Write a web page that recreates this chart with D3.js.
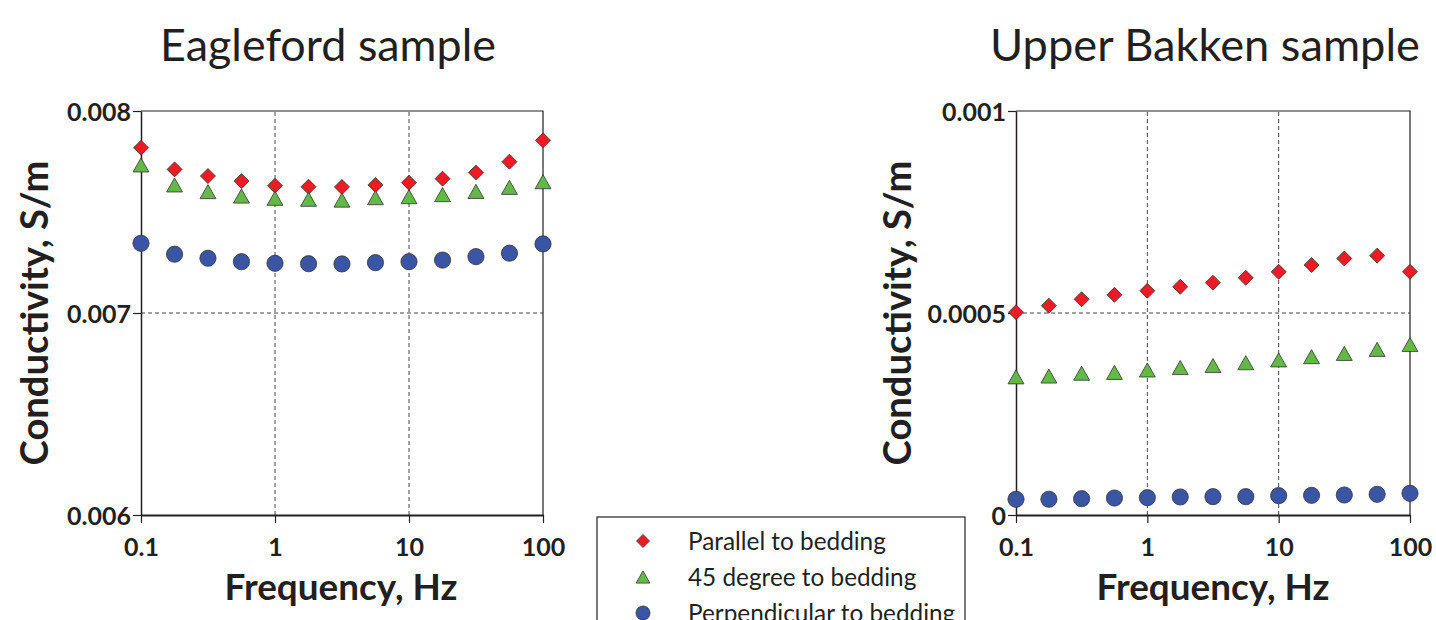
<!DOCTYPE html>
<html><head><meta charset="utf-8">
<script src="https://cdn.jsdelivr.net/npm/d3@7"></script>
<style>html,body{margin:0;padding:0;background:#fff;overflow:hidden}</style>
</head><body>
<svg id="c" width="1436" height="620"></svg>
<script>
// ---- data ----
const frequency = [0.1, 0.178, 0.316, 0.562, 1, 1.78, 3.16, 5.62, 10, 17.8, 31.6, 56.2, 100];
const seriesNames = ["Parallel to bedding", "45 degree to bedding", "Perpendicular to bedding"];
const eaglefordParallel = [0.007818, 0.007711, 0.007678, 0.007653, 0.007630, 0.007625, 0.007624, 0.007634, 0.007645, 0.007665, 0.007695, 0.007749, 0.007855];
const eagleford45 = [0.007733, 0.007634, 0.007601, 0.007579, 0.007568, 0.007563, 0.007559, 0.007571, 0.007576, 0.007586, 0.007602, 0.007622, 0.007650];
const eaglefordPerp = [0.007345, 0.007291, 0.007271, 0.007254, 0.007246, 0.007244, 0.007243, 0.007249, 0.007254, 0.007262, 0.007279, 0.007296, 0.007342];
const bakkenParallel = [0.000502, 0.000518, 0.000534, 0.000545, 0.000555, 0.000565, 0.000575, 0.000587, 0.000602, 0.000619, 0.000635, 0.000642, 0.000602];
const bakken45 = [0.000342, 0.000344, 0.000351, 0.000353, 0.000359, 0.000365, 0.000370, 0.000377, 0.000384, 0.000392, 0.000400, 0.000410, 0.000422];
const bakkenPerp = [0.0000389, 0.000039, 0.0000404, 0.000042, 0.0000429, 0.0000446, 0.0000454, 0.0000454, 0.0000479, 0.0000487, 0.0000495, 0.0000512, 0.0000536];
const xTicks = [0.1, 1, 10, 100];
const xTickLabels = ["0.1", "1", "10", "100"];
const eaglefordYTicks = [0.006, 0.007, 0.008];
const eaglefordYTickLabels = ["0.006", "0.007", "0.008"];
const eaglefordYMinor = [0.0065, 0.0075];
const bakkenYTicks = [0, 0.0005, 0.001];
const bakkenYTickLabels = ["0", "0.0005", "0.001"];
const bakkenYMinor = [0.00025, 0.00075];
const titles = ["Eagleford sample", "Upper Bakken sample"];
const xLabel = "Frequency, Hz";
const yLabel = "Conductivity, S/m";

// ---- style ----
const colors = ["#ed1c24", "#62b946", "#3a55a4"];
const ink = "#231f20";
const FONT = "Lato, 'Open Sans', sans-serif";
const svg = d3.select("#c");

function markerPath(kind, s) {
  if (kind === 0) { const h = s * 0.5; return `M0,${-h}L${h},0L0,${h}L${-h},0Z`; }
  if (kind === 1) { const w = s * 0.53, h = s * 0.47; return `M0,${-h}L${w},${h}L${-w},${h}Z`; }
  return d3.symbol(d3.symbolCircle, Math.PI * (s * 0.54) * (s * 0.54))();
}
function fit(sel, w) {
  const cur = sel.node().getComputedTextLength();
  const fs = parseFloat(sel.attr("font-size")) * w / cur;
  sel.attr("font-size", fs);
  return fs;
}

const panels = [
  { title: titles[0], xr: [141, 543], yd: [0.006, 0.008], yt: eaglefordYTicks, ytl: eaglefordYTickLabels, ym: eaglefordYMinor,
    series: [eaglefordParallel, eagleford45, eaglefordPerp], titleX: 328, titleW: 336, xlabX: 341, ylabX: 48 },
  { title: titles[1], xr: [1016, 1410], yd: [0, 0.001], yt: bakkenYTicks, ytl: bakkenYTickLabels, ym: bakkenYMinor,
    series: [bakkenParallel, bakken45, bakkenPerp], titleX: 1205, titleW: 430, xlabX: 1213, ylabX: 911 }
];
const yr = [515, 111];

panels.forEach(p => {
  const x = d3.scaleLog().domain([0.1, 100]).range(p.xr);
  const y = d3.scaleLinear().domain(p.yd).range(yr);
  const g = svg.append("g");

  // gridlines (dashed)
  g.selectAll(".vg").data([1, 10]).join("line")
    .attr("x1", d => x(d)).attr("x2", d => x(d)).attr("y1", yr[0]).attr("y2", yr[1])
    .attr("stroke", "#444").attr("stroke-width", 1).attr("stroke-dasharray", "4,3");
  g.selectAll(".hg").data([p.yt[1]]).join("line")
    .attr("x1", p.xr[0]).attr("x2", p.xr[1]).attr("y1", d => y(d)).attr("y2", d => y(d))
    .attr("stroke", "#444").attr("stroke-width", 1).attr("stroke-dasharray", "4,3");

  // frame top/right
  g.append("path").attr("d", `M${p.xr[0]},${yr[1]}H${p.xr[1]}V${yr[0]}`)
    .attr("fill", "none").attr("stroke", ink).attr("stroke-width", 1.2);

  // x axis
  const minors = [];
  [0.1, 1, 10].forEach(dec => { for (let k = 2; k <= 9; k++) minors.push(dec * k); });
  const xa = g.append("g").attr("transform", `translate(0,${yr[0]})`);
  xa.call(d3.axisBottom(x).tickValues(minors).tickSize(4).tickFormat(""));
  xa.call(d3.axisBottom(x).tickValues(xTicks).tickSize(8).tickSizeOuter(0)
    .tickFormat((d, i) => xTickLabels[i]));
  xa.selectAll("path.domain").attr("stroke", ink).attr("stroke-width", 2);
  xa.selectAll("line").attr("stroke", ink).attr("stroke-width", 1.2);
  xa.selectAll("text").attr("font-family", FONT).attr("font-weight", "bold")
    .attr("font-size", 25).attr("fill", ink).attr("dy", null).attr("y", 41);

  // y axis
  const ya = g.append("g").attr("transform", `translate(${p.xr[0]},0)`);
  ya.call(d3.axisLeft(y).tickValues(p.ym).tickSize(4).tickFormat(""));
  ya.call(d3.axisLeft(y).tickValues(p.yt).tickSize(8).tickSizeOuter(0)
    .tickFormat((d, i) => p.ytl[i]));
  ya.selectAll("path.domain").attr("stroke", ink).attr("stroke-width", 1.5);
  ya.selectAll("line").attr("stroke", ink).attr("stroke-width", 1.2);
  ya.selectAll("text").attr("font-family", FONT).attr("font-weight", "bold")
    .attr("font-size", 25).attr("fill", ink).attr("x", -10).attr("dy", "0.36em");

  // markers: red, green, blue
  p.series.forEach((vals, k) => {
    g.selectAll(".m" + k).data(vals).join("path")
      .attr("d", markerPath(k, 15))
      .attr("transform", (d, i) => `translate(${x(frequency[i])},${y(d)})`)
      .attr("fill", colors[k]).attr("stroke", "#333").attr("stroke-width", 0.8);
  });

  // titles & axis labels
  const t = svg.append("text").text(p.title).attr("x", p.titleX).attr("y", 61)
    .attr("text-anchor", "middle").attr("font-family", FONT).attr("font-size", 40).attr("fill", ink);
  fit(t, p.titleW);
  const xl = svg.append("text").text(xLabel).attr("x", p.xlabX).attr("y", 600)
    .attr("text-anchor", "middle").attr("font-family", FONT).attr("font-weight", "bold").attr("font-size", 32).attr("fill", ink);
  fit(xl, 233);
  const yl = svg.append("text").text(yLabel)
    .attr("transform", `translate(${p.ylabX},313) rotate(-90)`)
    .attr("text-anchor", "middle").attr("font-family", FONT).attr("font-weight", "bold").attr("font-size", 32).attr("fill", ink);
  fit(yl, 305);
});

// legend
const lg = svg.append("g");
lg.append("rect").attr("x", 597).attr("y", 517).attr("width", 368).attr("height", 140)
  .attr("fill", "#fff").attr("stroke", ink).attr("stroke-width", 1.2);
const ly = d3.scalePoint().domain(seriesNames).range([541, 613]);
let legendFs = 20;
seriesNames.forEach((n, k) => {
  lg.append("path").attr("d", markerPath(k, 13))
    .attr("transform", `translate(643,${ly(n)})`)
    .attr("fill", colors[k]).attr("stroke", "#333").attr("stroke-width", 0.8);
  const tt = lg.append("text").text(n).attr("x", 688).attr("y", ly(n)).attr("dy", "0.36em")
    .attr("font-family", FONT).attr("font-size", legendFs).attr("fill", ink);
  if (k === 0) legendFs = fit(tt, 198);
});
</script>
</body></html>
